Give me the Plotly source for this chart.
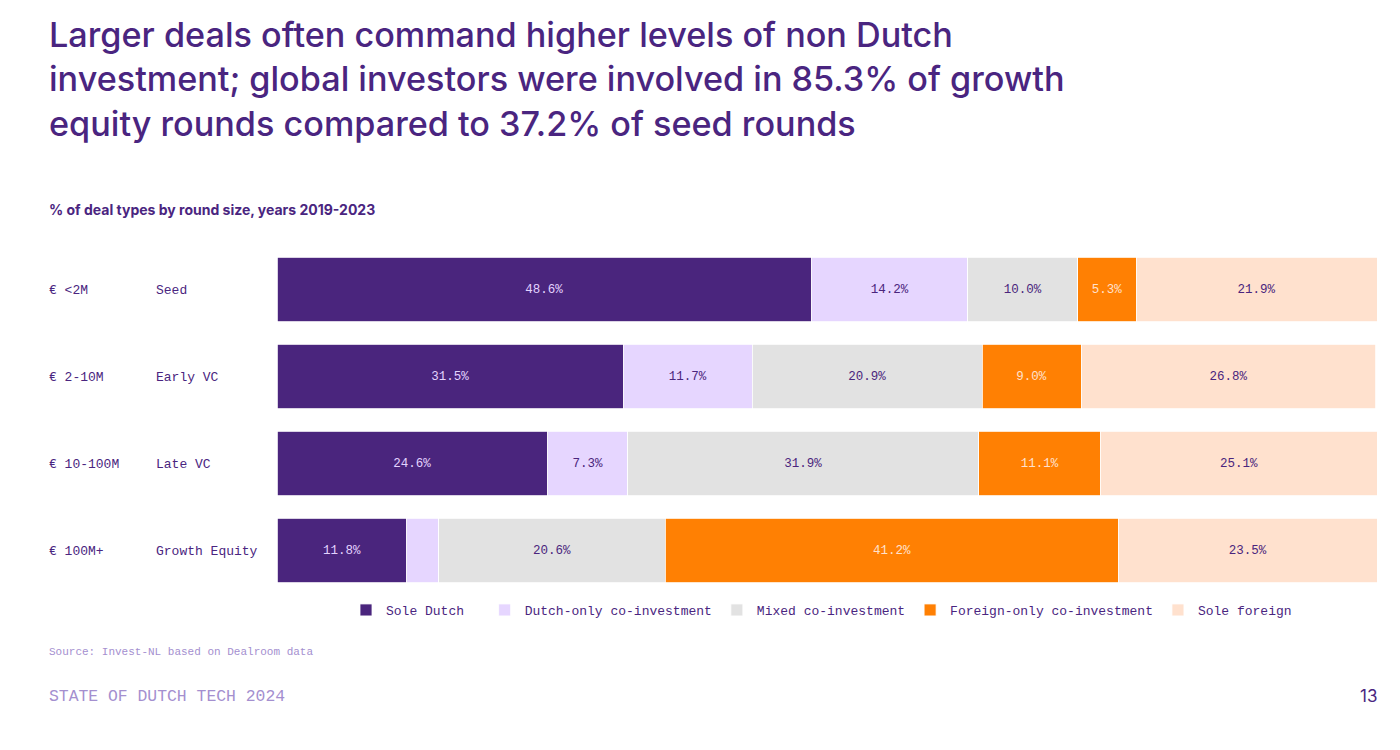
import plotly.graph_objects as go

sizes = ["€ <2M", "€ 2-10M", "€ 10-100M", "€ 100M+"]
stages = ["Seed", "Early VC", "Late VC", "Growth Equity"]
series_names = ["Sole Dutch\u00a0\u00a0", "Dutch-only co-investment", "Mixed co-investment",
                "Foreign-only co-investment", "Sole foreign"]
sole_dutch = [48.6, 31.5, 24.6, 11.8]
dutch_only = [14.2, 11.7, 7.3, 2.9]
mixed = [10.0, 20.9, 31.9, 20.6]
foreign_only = [5.3, 9.0, 11.1, 41.2]
sole_foreign = [21.9, 26.8, 25.1, 23.5]

values = [sole_dutch, dutch_only, mixed, foreign_only, sole_foreign]
colors = ["#4A257D", "#E6D6FF", "#E2E2E2", "#FF8003", "#FFE1CE"]
text_colors = ["#E3D3FF", "#4A257D", "#4A257D", "#FFE1CE", "#4A257D"]

PURPLE = "#4A2580"
MONO = "Liberation Mono, DejaVu Sans Mono, monospace"
SANS = "Inter, Lato, Roboto, sans-serif"

# page body has an 8px margin; figure is sized/placed to compensate
W, H = 1384, 734
ML, PW = 269, 1100
MT, PH = 238, 348

fig = go.Figure()
for name, vals, col, tcol in zip(series_names, values, colors, text_colors):
    fig.add_trace(go.Bar(
        y=stages, x=vals, name=name, orientation="h",
        marker=dict(color=col, line=dict(color="white", width=0.8)),
        text=[f"{v:.1f}%" if v >= 5 else "" for v in vals],
        textposition="inside", insidetextanchor="middle",
        textfont=dict(family=MONO, size=12.5, color=tcol),
        hoverinfo="skip",
    ))


def paper_x(px):
    return (px - 8 - ML) / PW


def paper_y(py):
    return (MT + PH - (py - 8)) / PH


fig.update_layout(
    barmode="stack", bargap=0.26,
    width=W, height=H,
    margin=dict(l=ML, r=W - ML - PW, t=MT, b=H - MT - PH),
    paper_bgcolor="white", plot_bgcolor="white",
    xaxis=dict(range=[0, 100], visible=False, fixedrange=True),
    yaxis=dict(categoryorder="array", categoryarray=stages[::-1], showticklabels=False,
               showgrid=False, zeroline=False),
    showlegend=True,
    legend=dict(orientation="h", x=paper_x(346), xanchor="left", y=paper_y(595), yanchor="top",
                font=dict(family=MONO, size=13, color=PURPLE),
                itemwidth=30, traceorder="normal"),
    uniformtext=dict(minsize=8, mode="show"),
)

# Row labels
for s, st in zip(sizes, stages):
    fig.add_annotation(x=paper_x(47), xref="paper", y=st, yref="y", yshift=-1, text=s,
                       showarrow=False, xanchor="left",
                       font=dict(family=MONO, size=13, color=PURPLE))
    fig.add_annotation(x=paper_x(154), xref="paper", y=st, yref="y", yshift=-1, text=st,
                       showarrow=False, xanchor="left",
                       font=dict(family=MONO, size=13, color=PURPLE))

title = ("Larger deals often command higher levels of non Dutch<br>"
         "investment; global investors were involved in 85.3% of growth<br>"
         "equity rounds compared to 37.2% of seed rounds")
fig.add_annotation(x=paper_x(47), y=paper_y(12), xref="paper", yref="paper", text=title,
                   showarrow=False, xanchor="left", yanchor="top", align="left",
                   font=dict(family=SANS, size=34.2, color=PURPLE, weight=500))

fig.add_annotation(x=paper_x(47), y=paper_y(209), xref="paper", yref="paper",
                   text="<b>% of deal types by round size, years 2019-2023</b>",
                   showarrow=False, xanchor="left", yanchor="middle",
                   font=dict(family=SANS, size=14, color=PURPLE))
fig.add_annotation(x=paper_x(47), y=paper_y(652), xref="paper", yref="paper",
                   text="Source: Invest-NL based on Dealroom data",
                   showarrow=False, xanchor="left", yanchor="middle",
                   font=dict(family=MONO, size=11, color="#A48FCF"))
fig.add_annotation(x=paper_x(47), y=paper_y(696), xref="paper", yref="paper",
                   text="STATE OF DUTCH TECH 2024",
                   showarrow=False, xanchor="left", yanchor="middle",
                   font=dict(family=MONO, size=16.4, color="#A48FCF"))
fig.add_annotation(x=paper_x(1379), y=paper_y(696), xref="paper", yref="paper",
                   text="13", showarrow=False, xanchor="right", yanchor="middle",
                   font=dict(family=SANS, size=17, color=PURPLE))

fig.write_html("out.html")
